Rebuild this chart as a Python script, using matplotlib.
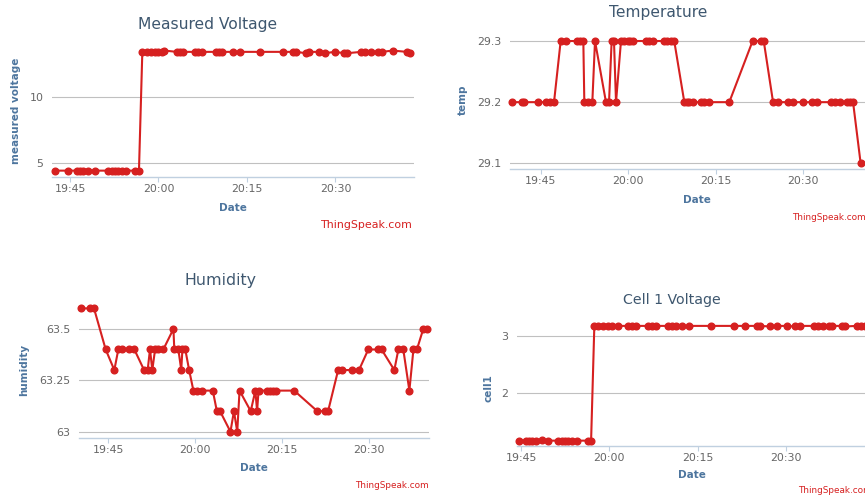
import matplotlib
matplotlib.use("Agg")
import matplotlib.pyplot as plt

# four ThingSpeak field charts, time in minutes after 19:45
tick_pos = [0, 15, 30, 45]
tick_lab = ["19:45", "20:00", "20:15", "20:30"]

# measured voltage
volt_t = [-2.54, -0.40, 1.13, 1.69, 2.26, 3.1, 4.24, 6.5, 7.06, 7.63, 8.2, 8.87, 9.44, 11.1, 11.69,
          12.26, 13.0, 13.7, 14.4, 14.97, 15.54, 16.0, 18.08, 18.64, 19.2, 21.2, 21.75, 22.4,
          24.7, 25.25, 25.8, 27.6, 28.8, 32.2, 36.05, 37.85, 38.3, 40.0, 40.56, 42.25, 43.2,
          44.9, 46.5, 47.0, 49.4, 50.0, 51.1, 52.25, 52.9, 54.7, 57.07, 57.6]
volt_v = [4.4, 4.4, 4.4, 4.4, 4.4, 4.4, 4.4, 4.4, 4.35, 4.4, 4.4, 4.4, 4.4, 4.4, 4.4,
          13.4, 13.4, 13.4, 13.4, 13.4, 13.4, 13.5, 13.4, 13.4, 13.4, 13.4, 13.4, 13.4,
          13.4, 13.4, 13.4, 13.4, 13.4, 13.4, 13.4, 13.4, 13.4, 13.3, 13.4, 13.4, 13.3,
          13.4, 13.3, 13.3, 13.4, 13.4, 13.4, 13.4, 13.4, 13.5, 13.4, 13.3]

# temperature
temp_t = [-4.86, -3.15, -2.8, -0.51, 0.86, 1.6, 2.28, 3.42, 4.28, 6.16, 6.73, 7.3, 7.47, 8.15,
          8.84, 9.3, 11.18, 11.7, 12.15, 12.55, 12.9, 13.75, 14.3, 14.9, 15.3, 15.86, 17.98,
          18.5, 19.18, 21.16, 21.7, 22.3, 22.87, 24.6, 25.0, 25.4, 26.1, 27.45, 28.0, 28.8,
          32.3, 36.3, 37.7, 38.2, 39.8, 40.6, 42.4, 43.25, 44.97, 46.4, 47.4, 49.7, 50.4,
          51.3, 52.4, 52.96, 53.5, 54.8]
temp_v = [29.2, 29.2, 29.2, 29.2, 29.2, 29.2, 29.2, 29.3, 29.3, 29.3, 29.3, 29.3, 29.2, 29.2,
          29.2, 29.3, 29.2, 29.2, 29.3, 29.3, 29.2, 29.3, 29.3, 29.3, 29.3, 29.3, 29.3,
          29.3, 29.3, 29.3, 29.3, 29.3, 29.3, 29.2, 29.2, 29.2, 29.2, 29.2, 29.2, 29.2,
          29.2, 29.3, 29.3, 29.3, 29.2, 29.2, 29.2, 29.2, 29.2, 29.2, 29.2, 29.2, 29.2,
          29.2, 29.2, 29.2, 29.2, 29.1]

# humidity
hum_t = [-4.72, -3.17, -2.47, -0.45, 1.04, 1.73, 2.3, 3.64, 4.5, 6.18, 6.8, 7.2, 7.6, 8.08,
         8.65, 9.5, 11.25, 11.4, 12.1, 12.6, 12.8, 13.3, 13.96, 14.7, 15.4, 16.15, 18.05,
         18.75, 19.3, 21.1, 21.7, 22.27, 22.67, 24.6, 25.4, 25.7, 25.95, 27.36, 27.93, 28.5,
         28.96, 32.1, 36.1, 37.5, 37.96, 39.7, 40.4, 42.1, 43.3, 44.9, 46.5, 47.2, 49.4,
         50.1, 50.95, 52.0, 52.7, 53.3, 54.4, 55.0]
hum_v = [63.6, 63.6, 63.6, 63.4, 63.3, 63.4, 63.4, 63.4, 63.4, 63.3, 63.3, 63.4, 63.3, 63.4,
         63.4, 63.4, 63.5, 63.4, 63.4, 63.3, 63.4, 63.4, 63.3, 63.2, 63.2, 63.2, 63.2,
         63.1, 63.1, 63.0, 63.1, 63.0, 63.2, 63.1, 63.2, 63.1, 63.2, 63.2, 63.2, 63.2,
         63.2, 63.2, 63.1, 63.1, 63.1, 63.3, 63.3, 63.3, 63.3, 63.4, 63.4, 63.4, 63.3,
         63.4, 63.4, 63.2, 63.4, 63.4, 63.5, 63.5]

# cell 1 voltage
cell_t = [-0.34, 0.79, 1.36, 1.92, 2.49, 3.5, 4.5, 6.3, 6.9, 7.47, 8.0, 8.6, 9.46, 11.4, 11.9,
          12.45, 13.1, 14.0, 14.8, 15.4, 16.5, 18.2, 18.9, 19.5, 21.5, 22.2, 23.0, 25.0, 25.6,
          26.3, 27.3, 28.5, 32.3, 36.2, 38.0, 40.0, 40.6, 42.3, 43.4, 45.1, 46.5, 47.4, 49.8,
          50.5, 51.3, 52.3, 52.75, 54.45, 55.0, 57.0, 57.7, 58.4]
cell_v = [1.18, 1.18, 1.18, 1.18, 1.18, 1.19, 1.18, 1.18, 1.18, 1.18, 1.18, 1.18, 1.18, 1.18, 1.18,
          3.17, 3.17, 3.17, 3.17, 3.17, 3.17, 3.17, 3.17, 3.17, 3.17, 3.17, 3.17, 3.17, 3.17,
          3.17, 3.17, 3.17, 3.17, 3.17, 3.17, 3.17, 3.17, 3.16, 3.17, 3.17, 3.16, 3.17, 3.17,
          3.17, 3.17, 3.17, 3.17, 3.17, 3.16, 3.17, 3.16, 3.17]

W, H = 865, 497
RED = "#D62020"
TITLE_C = "#3E576F"
AXT_C = "#4D759E"

fig = plt.figure(figsize=(W / 100, H / 100), dpi=100)


def put(x, y, s, **kw):
    fig.text(x / W, 1 - y / H, s, **kw)


def panel(l, t, r, b, xs, ys, xlim, ylim, yticks, ylabels):
    ax = fig.add_axes([l / W, 1 - b / H, (r - l) / W, (b - t) / H])
    ax.patch.set_visible(False)
    ax.plot(xs, ys, color=RED, lw=1.5, marker="o", ms=4.8, zorder=3, clip_on=False)
    ax.set_xlim(xlim)
    ax.set_ylim(ylim)
    ax.set_xticks(tick_pos, tick_lab)
    ax.set_yticks(yticks, ylabels)
    ax.yaxis.grid(True, color="#C0C0C0", lw=0.8)
    ax.set_axisbelow(True)
    for side in ["top", "left", "right"]:
        ax.spines[side].set_visible(False)
    ax.spines["bottom"].set_color("#C0D0E0")
    ax.spines["bottom"].set_linewidth(1)
    ax.tick_params(axis="x", length=3.6, width=0.8, color="#C0D0E0", pad=1.5,
                   labelsize=7.9, labelcolor="#666666")
    ax.tick_params(axis="y", length=0, pad=6.3, labelsize=7.9, labelcolor="#666666")
    return ax


# Measured Voltage
panel(52.3, 45, 414.3, 176.7, volt_t, volt_v, (-3.0, 58.36), (3.94, 13.92),
      [5, 10], ["5", "10"])
put(208, 24, "Measured Voltage", fontsize=11.2, color=TITLE_C, ha="center", va="center")
put(16, 111, "measured voltage", fontsize=7.5, color=AXT_C, weight="bold", rotation=90,
    ha="center", va="center")
put(233, 208, "Date", fontsize=7.5, color=AXT_C, weight="bold", ha="center", va="center")
put(413.3, 225, "ThingSpeak.com", fontsize=7.9, color=RED, ha="right", va="center")

# Temperature
panel(510, 30, 884, 169.3, temp_t, temp_v, (-5.26, 58.8), (29.0902, 29.318),
      [29.1, 29.2, 29.3], ["29.1", "29.2", "29.3"])
put(657.7, 13, "Temperature", fontsize=11.2, color=TITLE_C, ha="center", va="center")
put(463, 100, "temp", fontsize=7.5, color=AXT_C, weight="bold", rotation=90,
    ha="center", va="center")
put(697, 200, "Date", fontsize=7.5, color=AXT_C, weight="bold", ha="center", va="center")
put(791.7, 217, "ThingSpeak.com", fontsize=6.4, color=RED, ha="left", va="center")

# Humidity
panel(79, 302, 429, 438.3, hum_t, hum_v, (-5.06, 55.39), (62.968, 63.631),
      [63, 63.25, 63.5], ["63", "63.25", "63.5"])
put(220, 281, "Humidity", fontsize=11.4, color=TITLE_C, ha="center", va="center")
put(24, 370, "humidity", fontsize=7.5, color=AXT_C, weight="bold", rotation=90,
    ha="center", va="center")
put(254, 468, "Date", fontsize=7.5, color=AXT_C, weight="bold", ha="center", va="center")
put(429, 486, "ThingSpeak.com", fontsize=6.4, color=RED, ha="right", va="center")

# Cell 1 Voltage
panel(516.7, 318, 870, 446, cell_t, cell_v, (-0.73, 59.25), (1.087, 3.307),
      [2, 3], ["2", "3"])
put(671.7, 300, "Cell 1 Voltage", fontsize=10.2, color=TITLE_C, ha="center", va="center")
put(489, 388, "cell1", fontsize=7.5, color=AXT_C, weight="bold", rotation=90,
    ha="center", va="center")
put(692, 475, "Date", fontsize=7.5, color=AXT_C, weight="bold", ha="center", va="center")
put(798.3, 490.7, "ThingSpeak.com", fontsize=6.4, color=RED, ha="left", va="center")

fig.savefig("out.png", dpi=100, facecolor="white")
